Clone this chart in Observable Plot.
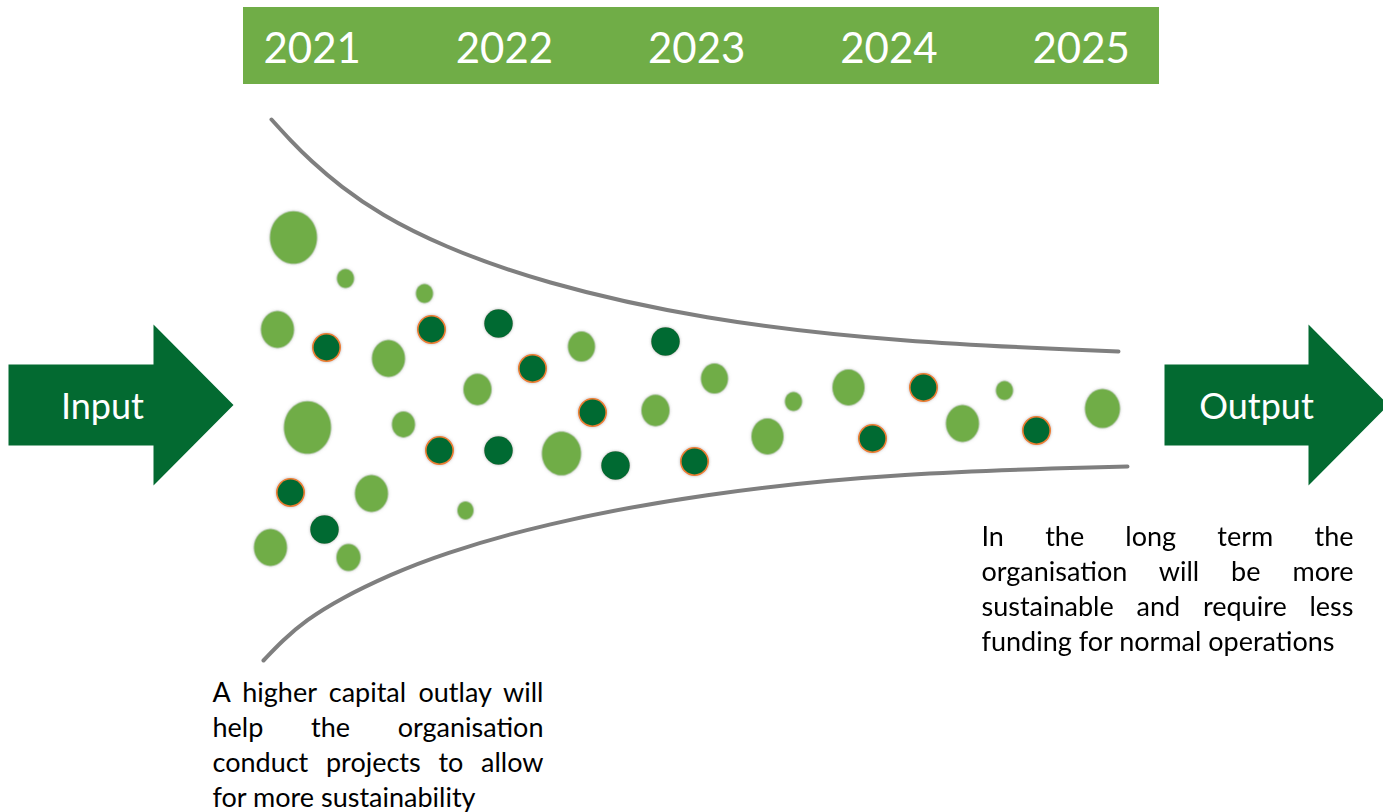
<!DOCTYPE html>
<html>
<head>
<meta charset="utf-8">
<script src="https://cdn.jsdelivr.net/npm/d3@7"></script>
<script src="https://cdn.jsdelivr.net/npm/@observablehq/plot@0.6"></script>
<style>
  html, body { margin: 0; padding: 0; background: #ffffff; }
  #chart { position: relative; width: 1383px; height: 812px; overflow: hidden; }
</style>
</head>
<body>
<div id="chart"></div>
<script>
// ---------------- data ----------------
const years = ["2021", "2022", "2023", "2024", "2025"];

// light-green project bubbles (centre x, centre y, width)
const lightX = [293, 345, 424, 277, 388, 477, 307, 403, 371, 465, 270, 348, 561, 581, 655, 714, 793, 767, 848, 962, 1004, 1102];
const lightY = [237, 278, 293, 329, 358, 389, 427, 424, 493, 510, 547, 557, 453, 346, 410, 378, 401, 436, 387, 423, 390, 408];
const lightW = [47, 17, 17, 33, 33, 28, 47, 23, 33, 16, 33, 24, 39, 27, 28, 27, 17, 32, 32, 33, 17, 35];

// dark-green project bubbles (centre x, centre y, orange ring?)
const darkX = [326, 431, 498, 532, 439, 498, 290, 324, 665, 592, 615, 694, 923, 872, 1036];
const darkY = [347, 329, 323, 368, 450, 450, 492, 529, 341, 412, 465, 461, 387, 438, 430];
const darkRing = [true, true, false, true, true, false, true, false, false, true, false, true, true, true, true];

// funnel boundaries
const topX = [271, 290, 310, 340, 380, 440, 540, 700, 900, 1118];
const topY = [119, 140, 160, 186, 214, 245, 282, 319, 342, 351];
const botX = [263, 282, 305, 340, 390, 440, 540, 700, 900, 1127];
const botY = [660, 640, 620, 598, 574, 554, 524, 493, 472, 466];

// labels
const arrowLabels = ["Input", "Output"];
const rightLines = ["In the long term the", "organisation will be more", "sustainable and require less", "funding for normal operations"];
const leftLines = ["A higher capital outlay will", "help the organisation", "conduct projects to allow", "for more sustainability"];

// ---------------- layout ----------------
const W = 1383, H = 812;
const C_LIGHT = "#70AD47", C_DARK = "#036A31", C_RING = "#ED7D31", C_GREY = "#7F7F7F";
const FONT = "Lato, 'Open Sans', sans-serif";
const banner = {x1: 243, x2: 1159, y1: 7, y2: 84};
const yearLayout = {x0: 263, step: 192.25, baseline: 62};
const arrows = [
  {left: 8, head: 153, tip: 233, bodyTop: 364, bodyBot: 445, headTop: 324, headBot: 485, cx: 102},
  {left: 1164, head: 1308, tip: 1388, bodyTop: 364, bodyBot: 445, headTop: 324, headBot: 485, cx: 1256}
];
const paraRight = {x: 981, width: 372, baseline0: 545, lh: 35};
const paraLeft = {x: 212, width: 331, baseline0: 701, lh: 35};

// tables
const light = lightX.map((x, i) => ({x, y: lightY[i], r: lightW[i] / 2}));
const dark = darkX.map((x, i) => ({x, y: darkY[i], ring: darkRing[i]}));
const topCurve = topX.map((x, i) => ({x, y: topY[i]}));
const botCurve = botX.map((x, i) => ({x, y: botY[i]}));
const yearRows = years.map((t, i) => ({t, x: yearLayout.x0 + i * yearLayout.step, y: yearLayout.baseline}));
const arrowPolys = arrows.flatMap((a, k) => {
  const mid = (a.headTop + a.headBot) / 2;
  return [
    [a.left, a.bodyTop], [a.head, a.bodyTop], [a.head, a.headTop], [a.tip, mid],
    [a.head, a.headBot], [a.head, a.bodyBot], [a.left, a.bodyBot], [a.left, a.bodyTop]
  ].map(([x, y]) => ({x, y, k}));
});
const arrowText = arrowLabels.map((t, i) => ({t, x: arrows[i].cx, y: 418}));
const paraRows = [
  ...rightLines.map((t, i) => ({t, x: paraRight.x, y: paraRight.baseline0 + i * paraRight.lh, w: paraRight.width, just: i < rightLines.length - 1})),
  ...leftLines.map((t, i) => ({t, x: paraLeft.x, y: paraLeft.baseline0 + i * paraLeft.lh, w: paraLeft.width, just: i < leftLines.length - 1}))
];

// ellipse symbol (slightly taller than wide)
const ellipse = {
  draw(ctx, size) {
    const rx = Math.sqrt(size / Math.PI), ry = rx * 1.12, k = 0.5523;
    ctx.moveTo(rx, 0);
    ctx.bezierCurveTo(rx, ry * k, rx * k, ry, 0, ry);
    ctx.bezierCurveTo(-rx * k, ry, -rx, ry * k, -rx, 0);
    ctx.bezierCurveTo(-rx, -ry * k, -rx * k, -ry, 0, -ry);
    ctx.bezierCurveTo(rx * k, -ry, rx, -ry * k, rx, 0);
    ctx.closePath();
  }
};

const plot = Plot.plot({
  width: W, height: H,
  margin: 0,
  x: {domain: [0, W], range: [0, W], axis: null},
  y: {domain: [0, H], range: [0, H], axis: null},
  r: {type: "identity"},
  style: {background: "#ffffff", fontFamily: FONT},
  marks: [
    Plot.rect([banner], {x1: "x1", x2: "x2", y1: "y1", y2: "y2", fill: C_LIGHT}),
    Plot.text(yearRows, {x: "x", y: "y", text: "t", fill: "#ffffff", fontSize: 42, textAnchor: "start", lineAnchor: "bottom", fontFamily: FONT}),
    Plot.line(topCurve, {x: "x", y: "y", stroke: C_GREY, strokeWidth: 4, curve: "basis"}),
    Plot.line(botCurve, {x: "x", y: "y", stroke: C_GREY, strokeWidth: 4, curve: "basis"}),
    Plot.line(arrowPolys, {x: "x", y: "y", z: "k", fill: C_DARK, stroke: null}),
    Plot.text(arrowText, {x: "x", y: "y", text: "t", fill: "#ffffff", fontSize: 36, textAnchor: "middle", lineAnchor: "bottom", fontFamily: FONT}),
    Plot.dot(light, {x: "x", y: "y", r: "r", symbol: ellipse, fill: C_LIGHT, stroke: null, ariaDescription: "bubbles"}),
    Plot.dot(dark.filter(d => d.ring), {x: "x", y: "y", r: 13.7, fill: C_DARK, stroke: C_RING, strokeWidth: 1.6, ariaDescription: "bubbles"}),
    Plot.dot(dark.filter(d => !d.ring), {x: "x", y: "y", r: 14.3, fill: C_DARK, stroke: null, ariaDescription: "bubbles"}),
    Plot.text(paraRows, {x: "x", y: "y", text: "t", fill: "#000000", fontSize: 27, textAnchor: "start", lineAnchor: "bottom", fontFamily: FONT, ariaDescription: "paragraph"})
  ]
});

document.getElementById("chart").appendChild(plot);

// soft glow around bubbles
const svg = d3.select(plot);
const defs = svg.insert("defs", ":first-child");
const f = defs.append("filter").attr("id", "glow").attr("x", "-30%").attr("y", "-30%").attr("width", "160%").attr("height", "160%");
f.append("feDropShadow").attr("dx", 0).attr("dy", 0).attr("stdDeviation", 1.6).attr("flood-color", "#808080").attr("flood-opacity", 0.55);
svg.selectAll("g[aria-description=bubbles]").attr("filter", "url(#glow)");

// justify paragraph lines
svg.selectAll("g[aria-description=paragraph] text").each(function(_, i) {
  const row = paraRows[i];
  if (!row || !row.just) return;
  const gaps = row.t.split(" ").length - 1;
  const len = this.getComputedTextLength();
  if (gaps > 0) d3.select(this).style("word-spacing", ((row.w - len) / gaps) + "px");
});
</script>
</body>
</html>
